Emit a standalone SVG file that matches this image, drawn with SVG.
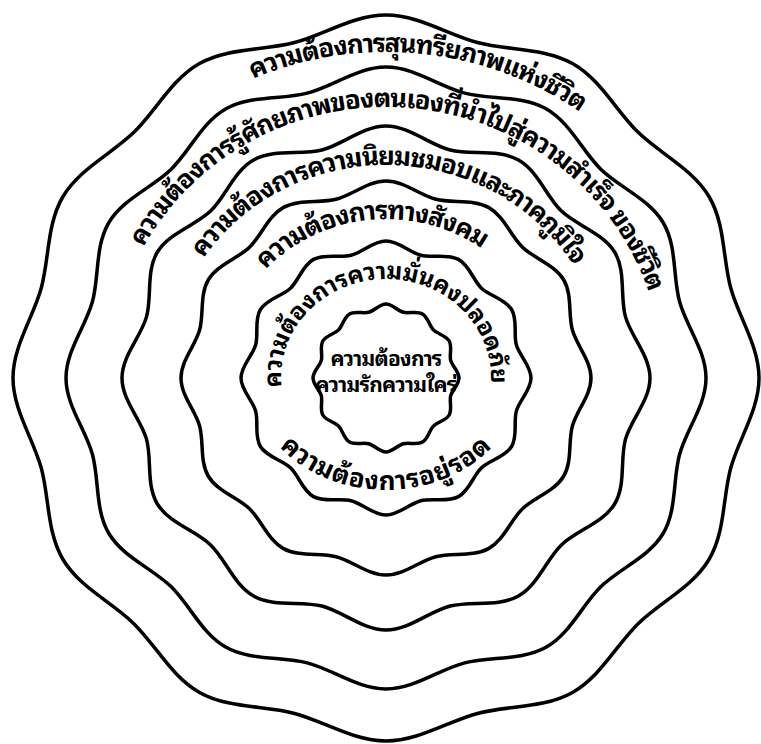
<svg xmlns="http://www.w3.org/2000/svg" xmlns:xlink="http://www.w3.org/1999/xlink" width="761" height="744" viewBox="0 0 761 744">
<style>
.ring{fill:none;stroke:#000;stroke-width:3.5;stroke-linejoin:round}
.lbl{font-family:"Noto Sans Thai Looped","Noto Serif Thai","Loma","Garuda","Kinnari","Norasi","Noto Sans Thai","Noto Sans","DejaVu Sans",sans-serif;font-weight:bold;font-size:26px;letter-spacing:-1.2px;fill:#000}
.wide{letter-spacing:0.6px}
.small{font-size:24px;letter-spacing:-0.4px}
.core{font-family:"Noto Sans Thai Looped","Noto Serif Thai","Loma","Garuda","Kinnari","Norasi","Noto Sans Thai","Noto Sans","DejaVu Sans",sans-serif;font-weight:bold;font-size:21px;letter-spacing:-0.8px;fill:#000;text-anchor:middle}
</style>
<defs>
<path id="t1" d="M-314.8,111.5 A335,326 0 1 1 314.8,111.5"/>
<path id="t2" d="M-260.3,92.7 A277,271 0 1 1 260.3,92.7"/>
<path id="t3" d="M-207.7,72.8 A221,213 0 1 1 207.7,72.8"/>
<path id="t4" d="M-155.1,54.4 A165,159 0 1 1 155.1,54.4"/>
<path id="t5" d="M-98.7,33.9 A105,99 0 1 1 98.7,33.9"/>
<path id="t6" d="M-126.9,-38.3 A135,112 0 1 0 126.9,-38.3"/>
</defs>
<rect width="761" height="744" fill="#fff"/>
<g transform="translate(386,378)">
<g id="ring-6">
<path class="ring" d="M373,0 C373,-31.7 352.9,-60.5 344.8,-89.8 C336.7,-119.1 339.3,-154 323,-181.5 C306.7,-209 274.5,-224 252.4,-245.4 C230.3,-266.8 214.7,-298.5 186.5,-314.4 C158.3,-330.3 122.5,-327.4 92.4,-335.2 C62.3,-343 32.6,-363 0,-363 C-32.6,-363 -62.3,-343 -92.4,-335.2 C-122.5,-327.4 -158.3,-330.3 -186.5,-314.4 C-214.7,-298.5 -230.3,-266.8 -252.4,-245.4 C-274.5,-224 -306.7,-209 -323,-181.5 C-339.3,-154 -336.7,-119.1 -344.8,-89.8 C-352.9,-60.5 -373,-31.7 -373,0 C-373,31.7 -352.9,60.5 -344.8,89.8 C-336.7,119.1 -339.3,154 -323,181.5 C-306.7,209 -274.5,224 -252.4,245.4 C-230.3,266.8 -214.7,298.5 -186.5,314.4 C-158.3,330.3 -122.5,327.4 -92.4,335.2 C-62.3,343 -32.6,363 0,363 C32.6,363 62.3,343 92.4,335.2 C122.5,327.4 158.3,330.3 186.5,314.4 C214.7,298.5 230.3,266.8 252.4,245.4 C274.5,224 306.7,209 323,181.5 C339.3,154 336.7,119.1 344.8,89.8 C352.9,60.5 373,31.7 373,0Z"/>
<text class="lbl"><textPath href="#t1" xlink:href="#t1" startOffset="52.7%" text-anchor="middle">ความต้องการสุนทรียภาพแห่งชีวิต</textPath></text>
</g>
<g id="ring-5">
<path class="ring" d="M320,0 C320,-27.2 300.5,-51.4 293.6,-76.3 C286.7,-101.2 291.1,-132 277.1,-155.5 C263.1,-179 233.8,-190.4 215,-208.6 C196.2,-226.8 184.2,-255.7 160,-269.3 C135.8,-282.9 104.4,-278.2 78.7,-284.9 C53,-291.6 28,-311 0,-311 C-28,-311 -53,-291.6 -78.7,-284.9 C-104.4,-278.2 -135.8,-282.9 -160,-269.3 C-184.2,-255.7 -196.2,-226.8 -215,-208.6 C-233.8,-190.4 -263.1,-179 -277.1,-155.5 C-291.1,-132 -286.7,-101.2 -293.6,-76.3 C-300.5,-51.4 -320,-27.2 -320,0 C-320,27.2 -300.5,51.4 -293.6,76.3 C-286.7,101.2 -291.1,132 -277.1,155.5 C-263.1,179 -233.8,190.4 -215,208.6 C-196.2,226.8 -184.2,255.7 -160,269.3 C-135.8,282.9 -104.4,278.2 -78.7,284.9 C-53,291.6 -28,311 0,311 C28,311 53,291.6 78.7,284.9 C104.4,278.2 135.8,282.9 160,269.3 C184.2,255.7 196.2,226.8 215,208.6 C233.8,190.4 263.1,179 277.1,155.5 C291.1,132 286.7,101.2 293.6,76.3 C300.5,51.4 320,27.2 320,0Z"/>
<text class="lbl"><textPath href="#t2" xlink:href="#t2" startOffset="52.3%" text-anchor="middle">ความต้องการรู้ศักยภาพของตนเองที่นำไปสู่ความสำเร็จ ของชีวิต</textPath></text>
</g>
<g id="ring-4">
<path class="ring" d="M264,0 C264,-22 245.1,-41.2 239.5,-61.1 C233.9,-81 240.1,-106.9 228.6,-126 C217.1,-145.1 190.7,-152.3 175.4,-166.9 C160.1,-181.5 152,-207.2 132,-218.2 C112,-229.2 85.1,-222.7 64.2,-228 C43.3,-233.3 23.1,-252 0,-252 C-23.1,-252 -43.3,-233.3 -64.2,-228 C-85.1,-222.7 -112,-229.2 -132,-218.2 C-152,-207.2 -160.1,-181.5 -175.4,-166.9 C-190.7,-152.3 -217.1,-145.1 -228.6,-126 C-240.1,-106.9 -233.9,-81 -239.5,-61.1 C-245.1,-41.2 -264,-22 -264,0 C-264,22 -245.1,41.2 -239.5,61.1 C-233.9,81 -240.1,106.9 -228.6,126 C-217.1,145.1 -190.7,152.3 -175.4,166.9 C-160.1,181.5 -152,207.2 -132,218.2 C-112,229.2 -85.1,222.7 -64.2,228 C-43.3,233.3 -23.1,252 0,252 C23.1,252 43.3,233.3 64.2,228 C85.1,222.7 112,229.2 132,218.2 C152,207.2 160.1,181.5 175.4,166.9 C190.7,152.3 217.1,145.1 228.6,126 C240.1,106.9 233.9,81 239.5,61.1 C245.1,41.2 264,22 264,0Z"/>
<text class="lbl"><textPath href="#t3" xlink:href="#t3" startOffset="50.5%" text-anchor="middle">ความต้องการความนิยมชมอบและภาคภูมิใจ</textPath></text>
</g>
<g id="ring-3">
<path class="ring" d="M205,0 C205,-17.2 190.8,-32.3 186.4,-47.9 C182,-63.5 186.5,-83.6 177.5,-98.5 C168.5,-113.4 148.4,-119.4 136.5,-130.8 C124.6,-142.2 118,-162 102.5,-170.6 C87,-179.2 66.2,-174.5 49.9,-178.7 C33.6,-182.9 17.9,-197 0,-197 C-17.9,-197 -33.6,-182.9 -49.9,-178.7 C-66.2,-174.5 -87,-179.2 -102.5,-170.6 C-118,-162 -124.6,-142.2 -136.5,-130.8 C-148.4,-119.4 -168.5,-113.4 -177.5,-98.5 C-186.5,-83.6 -182,-63.5 -186.4,-47.9 C-190.8,-32.3 -205,-17.2 -205,0 C-205,17.2 -190.8,32.3 -186.4,47.9 C-182,63.5 -186.5,83.6 -177.5,98.5 C-168.5,113.4 -148.4,119.4 -136.5,130.8 C-124.6,142.2 -118,162 -102.5,170.6 C-87,179.2 -66.2,174.5 -49.9,178.7 C-33.6,182.9 -17.9,197 0,197 C17.9,197 33.6,182.9 49.9,178.7 C66.2,174.5 87,179.2 102.5,170.6 C118,162 124.6,142.2 136.5,130.8 C148.4,119.4 168.5,113.4 177.5,98.5 C186.5,83.6 182,63.5 186.4,47.9 C190.8,32.3 205,17.2 205,0Z"/>
<text class="lbl"><textPath href="#t4" xlink:href="#t4" startOffset="47.3%" text-anchor="middle">ความต้องการทางสังคม</textPath></text>
</g>
<g id="ring-2">
<path class="ring" d="M145,0 C145,-12 133.5,-22.2 130.4,-32.9 C127.3,-43.6 131.9,-58.1 125.6,-68.5 C119.3,-78.9 103.8,-82 95.5,-89.8 C87.2,-97.6 83.5,-112.6 72.5,-118.6 C61.5,-124.6 46.3,-119.8 34.9,-122.7 C23.5,-125.6 12.7,-137 0,-137 C-12.7,-137 -23.5,-125.6 -34.9,-122.7 C-46.3,-119.8 -61.5,-124.6 -72.5,-118.6 C-83.5,-112.6 -87.2,-97.6 -95.5,-89.8 C-103.8,-82 -119.3,-78.9 -125.6,-68.5 C-131.9,-58.1 -127.3,-43.6 -130.4,-32.9 C-133.5,-22.2 -145,-12 -145,0 C-145,12 -133.5,22.2 -130.4,32.9 C-127.3,43.6 -131.9,58.1 -125.6,68.5 C-119.3,78.9 -103.8,82 -95.5,89.8 C-87.2,97.6 -83.5,112.6 -72.5,118.6 C-61.5,124.6 -46.3,119.8 -34.9,122.7 C-23.5,125.6 -12.7,137 0,137 C12.7,137 23.5,125.6 34.9,122.7 C46.3,119.8 61.5,124.6 72.5,118.6 C83.5,112.6 87.2,97.6 95.5,89.8 C103.8,82 119.3,78.9 125.6,68.5 C131.9,58.1 127.3,43.6 130.4,32.9 C133.5,22.2 145,12 145,0Z"/>
<text class="lbl small"><textPath href="#t5" xlink:href="#t5" startOffset="49.5%" text-anchor="middle">ความต้องการความมั่นคงปลอดภัย</textPath></text>
<text class="lbl wide"><textPath href="#t6" xlink:href="#t6" startOffset="50%" text-anchor="middle">ความต้องการอยู่รอด</textPath></text>
</g>
<g id="ring-1">
<path class="ring" d="M73,0 C73,-6.5 66.2,-11.9 64.7,-17.6 C63.2,-23.3 66.4,-31.4 63.2,-37 C60,-42.6 51.5,-43.9 47.4,-48.1 C43.3,-52.3 42,-60.9 36.5,-64.1 C31,-67.3 23,-64.2 17.3,-65.7 C11.6,-67.2 6.4,-74 0,-74 C-6.4,-74 -11.6,-67.2 -17.3,-65.7 C-23,-64.2 -31,-67.3 -36.5,-64.1 C-42,-60.9 -43.3,-52.3 -47.4,-48.1 C-51.5,-43.9 -60,-42.6 -63.2,-37 C-66.4,-31.4 -63.2,-23.3 -64.7,-17.6 C-66.2,-11.9 -73,-6.5 -73,0 C-73,6.5 -66.2,11.9 -64.7,17.6 C-63.2,23.3 -66.4,31.4 -63.2,37 C-60,42.6 -51.5,43.9 -47.4,48.1 C-43.3,52.3 -42,60.9 -36.5,64.1 C-31,67.3 -23,64.2 -17.3,65.7 C-11.6,67.2 -6.4,74 0,74 C6.4,74 11.6,67.2 17.3,65.7 C23,64.2 31,67.3 36.5,64.1 C42,60.9 43.3,52.3 47.4,48.1 C51.5,43.9 60,42.6 63.2,37 C66.4,31.4 63.2,23.3 64.7,17.6 C66.2,11.9 73,6.5 73,0Z"/>
<text class="core" x="0" y="-12">ความต้องการ</text>
<text class="core" x="0" y="14">ความรักความใคร่</text>
</g>
</g>
</svg>
